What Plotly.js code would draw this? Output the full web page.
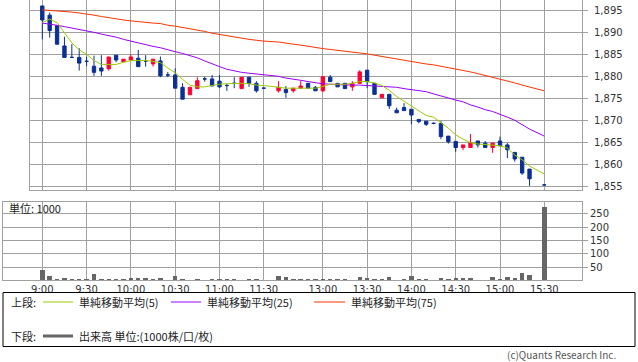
<!DOCTYPE html>
<html><head><meta charset="utf-8">
<script src="https://cdn.plot.ly/plotly-3.0.1.min.js"></script>
<style>html,body{margin:0;padding:0;background:#fff;}#chart{width:638px;height:362px;}</style>
</head><body><div id="chart"></div>
<script>
// ---- data (5-minute bars) ----
const times = ["9:00","9:05","9:10","9:15","9:20","9:25","9:30","9:35","9:40","9:45","9:50","9:55",
"10:00","10:05","10:10","10:15","10:20","10:25","10:30","10:35","10:40","10:45","10:50","10:55",
"11:00","11:05","11:10","11:15","11:20","11:25","11:30",
"12:30","12:35","12:40","12:45","12:50","12:55","13:00","13:05","13:10","13:15","13:20","13:25",
"13:30","13:35","13:40","13:45","13:50","13:55","14:00","14:05","14:10","14:15","14:20","14:25",
"14:30","14:35","14:40","14:45","14:50","14:55","15:00","15:05","15:10","15:15","15:20","15:30"];
const openP = [1896.0,1893.9,1891.5,1886.9,1884.3,1884.3,1883.4,1882.3,1881.9,1881.7,1884.8,1883.3,
1883.7,1884.1,1883.5,1882.8,1883.5,1880.3,1880.3,1877.5,1875.8,1877.2,1879.4,1879.4,
1878.9,1877.9,1878.4,1877.2,1879.8,1878.4,1877.3,
1876.7,1877.0,1876.7,1877.3,1878.4,1877.5,1876.7,1879.8,1878.4,1878.4,1877.6,1878.4,
1881.4,1878.4,1875.1,1875.9,1872.3,1872.9,1872.5,1870.2,1869.8,1869.3,1869.3,1866.4,
1865.2,1863.8,1863.8,1865.3,1864.8,1863.8,1865.3,1864.4,1862.7,1861.6,1858.9,1855.3];
const highP = [1896.0,1894.5,1891.5,1889.0,1887.3,1886.4,1884.5,1884.7,1884.8,1884.4,1884.8,1883.9,
1885.0,1886.0,1884.8,1883.9,1884.5,1881.0,1881.8,1878.4,1877.5,1879.8,1879.9,1880.3,
1880.3,1878.4,1879.8,1879.8,1879.8,1878.9,1877.3,
1878.9,1877.8,1877.3,1879.0,1878.4,1877.8,1879.9,1880.3,1878.4,1878.4,1878.9,1881.4,
1881.4,1878.4,1875.9,1875.9,1872.9,1873.9,1872.5,1870.2,1869.8,1869.5,1869.8,1866.4,
1865.2,1864.4,1866.9,1865.3,1865.3,1864.8,1866.3,1864.8,1862.7,1861.6,1858.9,1855.3];
const lowP = [1888.4,1888.8,1887.3,1884.3,1884.3,1881.3,1882.3,1880.1,1880.1,1881.3,1883.2,1883.3,
1883.7,1882.2,1882.2,1882.2,1879.8,1879.8,1877.3,1874.8,1875.8,1877.2,1878.8,1877.8,
1877.3,1876.7,1877.3,1877.2,1877.6,1876.3,1877.3,
1876.3,1875.1,1876.3,1877.3,1877.3,1876.7,1876.4,1878.8,1877.6,1877.2,1876.7,1878.4,
1877.3,1875.9,1875.1,1872.6,1871.7,1872.2,1869.1,1869.3,1868.7,1869.1,1865.7,1864.7,
1862.8,1863.2,1863.8,1863.8,1863.8,1862.6,1864.2,1861.4,1860.6,1857.6,1855.1,1855.3];
const closeP = [1892.8,1890.4,1887.3,1884.3,1884.3,1883.0,1883.4,1880.9,1881.2,1884.4,1883.7,1883.9,
1884.4,1882.2,1883.5,1883.9,1880.1,1880.3,1877.3,1874.8,1877.5,1879.0,1879.4,1877.8,
1877.6,1877.9,1878.4,1879.8,1878.4,1876.7,1877.3,
1877.5,1876.3,1877.3,1877.8,1877.3,1876.7,1879.9,1878.8,1877.6,1877.2,1878.4,1881.0,
1878.8,1875.9,1875.9,1873.3,1871.7,1872.2,1871.2,1869.7,1869.1,1869.3,1866.3,1865.1,
1863.8,1864.4,1864.9,1864.4,1863.8,1864.8,1864.2,1863.3,1861.2,1858.0,1856.7,1855.3];
const volume = [39,17,5,9,5,5,5,24,5,5,4,4,
9,9,9,5,9,3,16,5,3,5,3,5,
5,5,5,3,5,5,2,
16,12,5,5,5,5,5,5,5,5,3,14,
10,5,5,14,3,5,16,5,5,2,10,5,
10,10,10,3,3,14,5,12,10,29,20,275];
const ma5 = [1892.2,1893.0,1892.2,1890.0,1887.6,1886.0,1885.0,1883.6,1882.7,1882.7,1882.7,1883.2,
1883.6,1883.6,1883.6,1883.4,1883.1,1881.9,1880.8,1879.3,1878.0,1877.6,1877.6,1877.9,
1878.2,1878.3,1878.4,1878.4,1878.3,1878.0,1877.9,
1877.5,1877.3,1877.3,1877.3,1877.3,1877.3,1877.7,1878.2,1878.2,1878.2,1878.4,1878.8,
1878.8,1878.5,1877.9,1876.8,1875.4,1874.3,1873.2,1872.0,1871.1,1870.7,1869.5,1868.2,
1866.7,1865.7,1864.9,1864.6,1864.5,1864.4,1864.2,1863.7,1862.1,1861.0,1859.6,1857.8];
const ma25 = [1892.1,1891.9,1891.6,1891.3,1891.0,1890.7,1890.4,1890.0,1889.6,1889.3,1888.9,1888.4,
1888.0,1887.5,1887.2,1886.8,1886.5,1886.0,1885.6,1885.2,1884.7,1884.2,1883.5,1882.8,
1882.2,1881.6,1881.2,1880.9,1880.7,1880.5,1880.3,
1880.0,1879.6,1879.4,1879.1,1878.8,1878.5,1878.3,1878.2,1878.1,1878.1,1878.0,1878.0,
1877.9,1877.9,1877.8,1877.7,1877.5,1877.2,1877.0,1876.8,1876.5,1876.0,1875.5,1875.1,
1874.6,1874.2,1873.5,1873.0,1872.4,1872.0,1871.4,1870.7,1870.0,1869.0,1868.0,1866.4];
const ma75 = [1895.1,1895.0,1894.9,1894.8,1894.6,1894.4,1894.2,1893.9,1893.6,1893.3,1893.1,1892.8,
1892.6,1892.4,1892.3,1892.1,1892.0,1891.6,1891.4,1891.1,1890.9,1890.6,1890.2,1889.8,
1889.5,1889.2,1888.9,1888.6,1888.4,1888.2,1888.0,
1887.8,1887.5,1887.3,1887.1,1886.8,1886.5,1886.3,1886.1,1885.9,1885.7,1885.6,1885.4,
1885.1,1884.8,1884.5,1884.2,1883.9,1883.6,1883.4,1883.1,1882.8,1882.6,1882.3,1882.0,
1881.6,1881.3,1881.0,1880.6,1880.2,1879.8,1879.3,1878.9,1878.5,1878.0,1877.6,1876.7];
const tickTimes = ["9:00","9:30","10:00","10:30","11:00","11:30","13:00","13:30","14:00","14:30","15:00","15:30"];
const priceTicks = [1855,1860,1865,1870,1875,1880,1885,1890,1895];
const volTicks = [50,100,150,200,250];

// ---- helpers ----
function slot(t){ // session-time slot (lunch break collapsed)
  const [h,m]=t.split(':').map(Number); const mm=h*60+m;
  return mm<12*60 ? (mm-540)/5 : (mm-750)/5+32;
}
const xs = times.map(slot);
const W=638,H=362;
const PX=p=>p/W, PY=p=>1-p/H;
const isDoji = openP.map((o,i)=>o===closeP[i]);
const pick=(arr,f)=>arr.filter((_,i)=>f(i));
const BLUE='#0a2f96', RED='#ff0033';
const C5='#99cc00', C25='#9900ff', C75='#ff3300';
const font='DejaVu Sans, sans-serif', jfont='Noto Sans CJK JP, sans-serif';

const traces = [
 {type:'scatter',mode:'lines',x:xs,y:ma75,line:{color:C75,width:1},xaxis:'x',yaxis:'y',hoverinfo:'skip'},
 {type:'scatter',mode:'lines',x:xs,y:ma25,line:{color:C25,width:1},xaxis:'x',yaxis:'y',hoverinfo:'skip'},
 {type:'candlestick',x:pick(xs,i=>!isDoji[i]),open:pick(openP,i=>!isDoji[i]),high:pick(highP,i=>!isDoji[i]),
  low:pick(lowP,i=>!isDoji[i]),close:pick(closeP,i=>!isDoji[i]),xaxis:'x',yaxis:'y',
  increasing:{line:{color:RED,width:1},fillcolor:RED},decreasing:{line:{color:BLUE,width:1},fillcolor:BLUE},whiskerwidth:0},
 {type:'candlestick',x:pick(xs,i=>isDoji[i]),open:pick(openP,i=>isDoji[i]),high:pick(highP,i=>isDoji[i]),
  low:pick(lowP,i=>isDoji[i]),close:pick(closeP,i=>isDoji[i]),xaxis:'x',yaxis:'y',
  increasing:{line:{color:BLUE,width:1},fillcolor:BLUE},decreasing:{line:{color:BLUE,width:1},fillcolor:BLUE},whiskerwidth:0},
 {type:'scatter',mode:'lines',x:xs,y:ma5,line:{color:C5,width:1},xaxis:'x',yaxis:'y',hoverinfo:'skip'},
 {type:'bar',x:xs,y:volume,marker:{color:'#666666',line:{width:0}},width:0.6,xaxis:'x2',yaxis:'y2',hoverinfo:'skip'}
];

const step=(544.3-42.3)/68, x0px=42.3;
const rng=(l,r)=>[(l-x0px)/step,(r-x0px)/step];
const tickPos = tickTimes.map(slot);
const grid='#a0a0a0';
const ann=(text,px,py,o={})=>Object.assign({text,x:PX(px),y:PY(py),xref:'paper',yref:'paper',xanchor:'left',yanchor:'middle',
  showarrow:false,font:{family:jfont,size:11,color:'#222'}},o);
const lineShape=(x0,x1,py,color,w)=>({type:'line',xref:'paper',yref:'paper',x0:PX(x0),x1:PX(x1),y0:PY(py),y1:PY(py),line:{color,width:w}});

const layout = {
 width:W,height:H,margin:{l:0,r:0,t:0,b:0},paper_bgcolor:'#fff',plot_bgcolor:'#fff',showlegend:false,
 boxgap:0.35,bargap:0,
 xaxis:{domain:[PX(30),PX(582)],range:rng(30,582),anchor:'y',tickvals:tickPos,showticklabels:false,ticks:'',
   showgrid:true,gridcolor:grid,gridwidth:1,showline:true,mirror:true,linecolor:grid,linewidth:1,zeroline:false,
   rangeslider:{visible:false},fixedrange:true},
 yaxis:{domain:[PY(190),PY(0)],range:[1854.15,1897.35],side:'right',anchor:'x',tickvals:priceTicks,tickformat:',',
   ticks:'outside',ticklen:5,tickcolor:grid,ticklabelstandoff:4,showgrid:true,gridcolor:grid,gridwidth:1,
   showline:true,mirror:true,linecolor:grid,linewidth:1,zeroline:false,tickfont:{family:font,size:10,color:'#333'}},
 xaxis2:{domain:[PX(3),PX(582)],range:rng(3,582),anchor:'y2',tickvals:tickPos,ticktext:tickTimes,ticks:'',
   showgrid:true,gridcolor:grid,gridwidth:1,showline:true,mirror:true,linecolor:grid,linewidth:1,zeroline:false,
   tickfont:{family:font,size:10,color:'#333'},ticklabelstandoff:0},
 yaxis2:{domain:[PY(280.3),PY(201.7)],range:[0,295.5],side:'right',anchor:'x2',tickvals:volTicks,
   ticks:'outside',ticklen:5,tickcolor:grid,showgrid:true,gridcolor:grid,gridwidth:1,
   showline:true,mirror:true,linecolor:grid,linewidth:1,zeroline:false,tickfont:{family:font,size:10,color:'#333'}},
 shapes:[
  {type:'rect',xref:'paper',yref:'paper',x0:PX(3),x1:PX(635),y0:PY(346.5),y1:PY(292.5),line:{color:'#000',width:1}},
  lineShape(43,73,302,C5,1), lineShape(171,201,302,C25,1), lineShape(314,345,302,C75,1),
  lineShape(43,73,336,'#666666',3)
 ],
 annotations:[
  ann('単位: 1000',7,208),
  ann('上段:',9,302), ann('単純移動平均(5)',77,302), ann('単純移動平均(25)',205,302), ann('単純移動平均(75)',349,302),
  ann('下段:',9,336), ann('出来高 単位:(1000株/口/枚)',77,336),
  ann('(c)Quants Research Inc.',618,354,{xanchor:'right',font:{family:jfont,size:10,color:'#555'}})
 ]
};
Plotly.newPlot('chart',traces,layout,{displayModeBar:false,staticPlot:true});
</script></body></html>
